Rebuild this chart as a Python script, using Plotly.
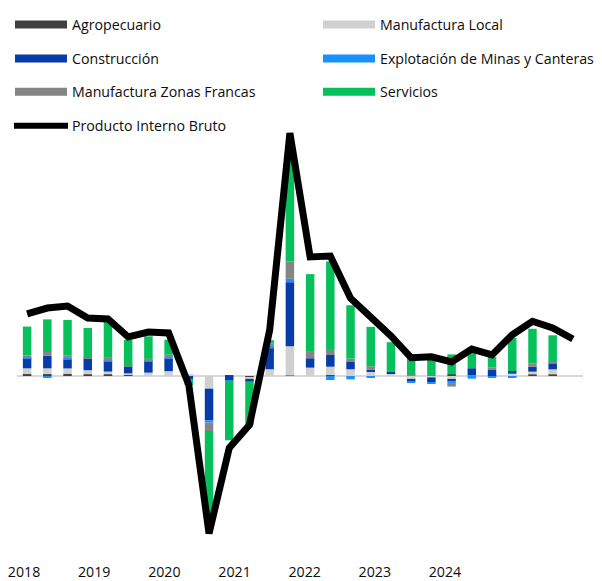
import plotly.graph_objects as go

# ---------------- data ----------------
quarters = [f"{y}T{q}" for y in range(2018, 2025) for q in range(1, 5)]
year_labels = ["2018", "2019", "2020", "2021", "2022", "2023", "2024"]

agropecuario = [0.2, 0.2, 0.24, 0.18, 0.18, 0.18, 0.0, 0.0, 0.1, 0.0, 0.05, -0.2, 0.0, 0.05,
                0.0, 0.1, 0.0, 0.0, 0.0, 0.0, 0.0, 0.17, 0.0, 0.0, 0.0, 0.17, 0.17, None]
manufactura_local = [0.6, 0.6, 0.55, 0.42, 0.28, 0.1, 0.35, 0.5, 0.1, -1.32, 0.0, -0.1, 0.7, 3.05,
                     0.87, 0.87, 0.7, 0.42, 0.25, -0.3, -0.15, -0.3, 0.05, 0.0, 0.24, 0.28, 0.52, None]
construccion = [1.05, 1.3, 0.94, 1.25, 1.1, 0.7, 1.18, 1.32, -0.35, -3.3, -0.45, -0.3, 2.2, 6.67,
                0.98, 1.22, 0.76, 0.25, 0.17, -0.25, -0.48, -0.28, 0.76, 0.63, 0.28, 0.52, 0.58, None]
minas = [0.05, -0.2, 0.15, 0.0, 0.05, 0.05, 0.05, 0.05, -0.1, -0.24, -0.05, 0.0, 0.24, 0.35,
         0.0, -0.42, -0.35, -0.15, 0.0, -0.1, -0.1, -0.24, -0.28, -0.17, -0.17, 0.0, 0.1, None]
zonas_francas = [0.25, 0.4, 0.28, 0.05, 0.28, 0.05, 0.2, 0.35, 0.0, -0.87, 0.0, 0.0, 0.24, 1.83,
                 0.66, 0.63, 0.35, 0.35, 0.0, 0.15, 0.0, -0.28, 0.0, 0.24, 0.0, 0.35, 0.17, None]
servicios = [3.0, 3.4, 3.68, 3.1, 3.8, 2.68, 2.35, 1.56, -0.5, -9.0, -6.2, -4.5, 0.35, 11.0,
             8.1, 9.1, 5.56, 4.1, 3.1, 1.9, 2.3, 2.08, 2.2, 1.1, 3.47, 3.6, 2.7, None]
pib = [6.46, 7.08, 7.29, 6.04, 5.94, 4.06, 4.58, 4.48, -0.94, -16.4, -7.5, -5.1, 4.79, 25.3,
       12.4, 12.5, 8.1, 6.15, 4.17, 1.9, 2.0, 1.46, 2.8, 2.2, 4.3, 5.7, 5.0, 3.85]

# ---------------- layout geometry ----------------
# the page body has an 8px margin, so the figure is drawn 8px in from the top-left
OFF = 8
W, H = 602 - OFF, 581 - OFF
PLOT_LEFT, PLOT_RIGHT, PLOT_TOP, PLOT_BOTTOM = 17, 583, 120, 562   # in window pixels
L = PLOT_LEFT - OFF
R = 602 - PLOT_RIGHT
T = PLOT_TOP - OFF
B = 581 - PLOT_BOTTOM
plot_w = W - L - R
plot_h = H - T - B
x_pos = list(range(len(quarters)))
PX_PER_UNIT = 9.6
ZERO_Y = 376
y_top = (ZERO_Y - PLOT_TOP) / PX_PER_UNIT
y_bot = -(PLOT_BOTTOM - ZERO_Y) / PX_PER_UNIT

def px_x(px):
    return (px - PLOT_LEFT) / plot_w

def px_y(py):
    return (PLOT_BOTTOM - py) / plot_h

FONT = "Open Sans, Noto Sans, Arial, sans-serif"
TXT = "#0d0d0d"

series = [
    ("Agropecuario", agropecuario, "#404040"),
    ("Manufactura Local", manufactura_local, "#d0d0d0"),
    ("Construcción", construccion, "#073ba8"),
    ("Explotación de Minas y Canteras", minas, "#1890ff"),
    ("Manufactura Zonas Francas", zonas_francas, "#858585"),
    ("Servicios", servicios, "#06c15b"),
]

fig = go.Figure()
for name, vals, col in series:
    fig.add_trace(go.Bar(x=x_pos, y=vals, name=name, marker_color=col,
                         marker_line_width=0, customdata=quarters,
                         hovertemplate="%{customdata}: %{y}<extra>" + name + "</extra>",
                         showlegend=False))
fig.add_trace(go.Scatter(x=x_pos, y=pib, name="Producto Interno Bruto", mode="lines",
                         line=dict(color="#000000", width=7), customdata=quarters,
                         hovertemplate="%{customdata}: %{y}<extra>PIB</extra>",
                         showlegend=False))

# ---------------- manual legend (two columns) ----------------
legend_items = [
    ("Agropecuario", "#404040", 15, 24.5, "bar"),
    ("Manufactura Local", "#d0d0d0", 323, 24.5, "bar"),
    ("Construcción", "#073ba8", 15, 58.5, "bar"),
    ("Explotación de Minas y Canteras", "#1890ff", 323, 58.5, "bar"),
    ("Manufactura Zonas Francas", "#858585", 15, 91.7, "bar"),
    ("Servicios", "#06c15b", 323, 91.7, "bar"),
    ("Producto Interno Bruto", "#000000", 15, 125.8, "line"),
]
shapes = []
annotations = []
for text, col, x0, yc, kind in legend_items:
    if kind == "bar":
        shapes.append(dict(type="rect", xref="paper", yref="paper",
                           x0=px_x(x0), x1=px_x(x0 + 52), y0=px_y(yc - 4), y1=px_y(yc + 4),
                           fillcolor=col, line=dict(width=0)))
    else:
        shapes.append(dict(type="line", xref="paper", yref="paper",
                           x0=px_x(x0 - 1), x1=px_x(x0 + 53), y0=px_y(yc), y1=px_y(yc),
                           line=dict(color=col, width=6)))
    annotations.append(dict(text=text, xref="paper", yref="paper", x=px_x(x0 + 55), y=px_y(yc),
                            xanchor="left", yanchor="middle", showarrow=False,
                            font=dict(family=FONT, size=14.2, color=TXT)))

tick_vals = [-0.15 + 3.47 * k for k in range(len(year_labels))]

fig.update_layout(
    width=W, height=H,
    margin=dict(l=L, r=R, t=T, b=B, pad=0, autoexpand=False),
    barmode="relative", bargap=0.58,
    plot_bgcolor="white", paper_bgcolor="white",
    showlegend=False,
    shapes=shapes, annotations=annotations,
    font=dict(family=FONT, size=14, color=TXT),
    xaxis=dict(range=[-0.5, 27.5], tickmode="array", tickvals=tick_vals, ticktext=year_labels,
               showgrid=False, zeroline=False, showline=False, ticks="", automargin=False,
               ticklabeloverflow="allow",
               tickfont=dict(family=FONT, size=14.2, color=TXT)),
    yaxis=dict(range=[y_bot, y_top], showgrid=False, showticklabels=False, automargin=False,
               zeroline=True, zerolinecolor="#d9d9d9", zerolinewidth=2, showline=False),
)

fig.write_html("out.html")
